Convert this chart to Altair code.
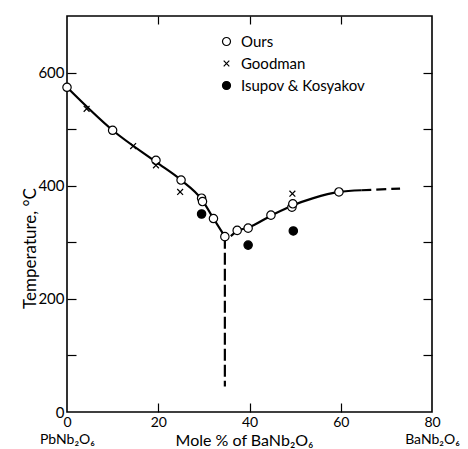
import altair as alt
import pandas as pd

# ---- data ----
series_order = ["Ours", "Goodman", "Isupov & Kosyakov"]

ours_x = [0, 10, 19.5, 25, 29.5, 29.7, 32.1, 34.6, 37.3, 39.7, 44.7, 49.3, 49.5, 59.6]
ours_y = [574, 498, 445, 410, 378, 372, 342, 310, 321, 325, 348, 362, 368, 389]

goodman_x = [4.3, 14.5, 19.5, 24.8, 49.4]
goodman_y = [536, 470, 436, 389, 386]

isupov_x = [29.5, 39.7, 49.6]
isupov_y = [350, 295, 320]

left_x = [0, 10, 19.5, 25, 29.6, 32.1, 34.6]
left_y = [574, 498, 442, 410, 375, 342, 310]

right_x = [35.9, 37.3, 39.7, 44.7, 49.4, 54, 59.6, 64.5]
right_y = [311, 320, 326, 347, 365, 378, 389, 392]

tail_x = [64.5, 73]
tail_y = [392, 395]

vert_x = [34.6, 34.6]
vert_y = [310, 45]

x_labels = [0, 20, 40, 60, 80]
y_labels = [0, 200, 400, 600]
y_ticks = [100, 200, 300, 400, 500, 600]
x_ticks = [20, 40, 60]

# ---- tables ----
pts = pd.concat([
    pd.DataFrame({"x": ours_x, "y": ours_y, "series": "Ours"}),
    pd.DataFrame({"x": goodman_x, "y": goodman_y, "series": "Goodman"}),
    pd.DataFrame({"x": isupov_x, "y": isupov_y, "series": "Isupov & Kosyakov"}),
])
solid_df = pd.concat([
    pd.DataFrame({"x": left_x, "y": left_y, "seg": "left"}),
    pd.DataFrame({"x": right_x, "y": right_y, "seg": "right"}),
])
vert_df = pd.DataFrame({"x": vert_x, "y": vert_y})
tail_df = pd.DataFrame({"x": tail_x, "y": tail_y})

xs = alt.Scale(domain=[0, 80], nice=False, zero=False)
ys = alt.Scale(domain=[0, 700], nice=False, zero=False)

cross_path = "M-0.7,-0.7L0.7,0.7M-0.7,0.7L0.7,-0.7"

leg = alt.Legend(title=None, orient="none", legendX=152, legendY=18,
                 labelFontSize=15, symbolSize=64, symbolStrokeWidth=1.2,
                 rowPadding=6, labelOffset=7, padding=0)

points = alt.Chart(pts).mark_point(
    filled=True, size=70, strokeWidth=1.2, opacity=1
).encode(
    x=alt.X("x:Q", scale=xs, axis=alt.Axis(
        values=x_labels, ticks=False, tickSize=0, domain=False, grid=False,
        labelPadding=3, labelFontSize=14, labelLineHeight=17, labelFlush=False,
        labelExpr="datum.value == 0 ? ['0', 'PbNb₂O₆'] : (datum.value == 80 ? ['80', 'BaNb₂O₆'] : datum.label)",
        title="Mole % of BaNb₂O₆", titleX=177, titleY=28, titleBaseline="middle",
        titleFontSize=16, titleFontWeight="normal")),
    y=alt.Y("y:Q", scale=ys, axis=alt.Axis(
        values=y_labels, ticks=False, tickSize=0, domain=False, grid=False,
        labelPadding=3, labelFontSize=15,
        title="Temperature, °C", titleX=-37, titleY=232, titleAngle=270,
        titleBaseline="middle", titleFontSize=17, titleFontWeight="normal")),
    shape=alt.Shape("series:N", scale=alt.Scale(domain=series_order,
                    range=["circle", cross_path, "circle"]), legend=leg),
    fill=alt.Fill("series:N", scale=alt.Scale(domain=series_order,
                  range=["white", "white", "black"]), legend=leg),
    stroke=alt.Stroke("series:N", scale=alt.Scale(domain=series_order,
                      range=["black", "black", "black"]), legend=leg),
)

solid = alt.Chart(solid_df).mark_line(
    color="black", strokeWidth=2.2, interpolate="monotone"
).encode(
    x=alt.X("x:Q", scale=xs, axis=alt.Axis(
        orient="top", offset=-396, labels=False, domain=False, grid=False,
        values=x_ticks, tickSize=9, tickWidth=1.2, tickColor="black", title=None)),
    y=alt.Y("y:Q", scale=ys, axis=alt.Axis(
        orient="right", offset=-365, labels=False, domain=False, grid=False,
        values=y_ticks, tickSize=9, tickWidth=1.2, tickColor="black", title=None)),
    detail="seg:N",
)

vert = alt.Chart(vert_df).mark_line(
    color="black", strokeWidth=2.2, strokeDash=[12, 4]
).encode(
    x=alt.X("x:Q", scale=xs, axis=alt.Axis(
        orient="bottom", offset=-396, labels=False, domain=False, grid=False,
        values=x_ticks, tickSize=8, tickWidth=1.2, tickColor="black", title=None)),
    y=alt.Y("y:Q", scale=ys, axis=alt.Axis(
        orient="left", offset=-365, labels=False, domain=False, grid=False,
        values=y_ticks, tickSize=9, tickWidth=1.2, tickColor="black", title=None)),
)

tail = alt.Chart(tail_df).mark_line(
    color="black", strokeWidth=2.2, strokeDash=[10, 5]
).encode(
    x=alt.X("x:Q", scale=xs, axis=None),
    y=alt.Y("y:Q", scale=ys, axis=None),
)

chart = alt.layer(solid, vert, tail, points).resolve_axis(
    x="independent", y="independent"
).properties(
    width=365, height=396,
    autosize=alt.AutoSizeParams(type="none"),
    padding={"left": 59, "top": 8, "right": 28, "bottom": 37},
).configure(
    font="Lato, 'Noto Sans', 'DejaVu Sans'",
).configure_view(
    stroke="black", strokeWidth=1.6,
).configure_axis(
    labelColor="black", titleColor="black",
).configure_legend(
    labelColor="black",
)

chart.save("out.html", embed_options={"renderer": "svg", "actions": False})
